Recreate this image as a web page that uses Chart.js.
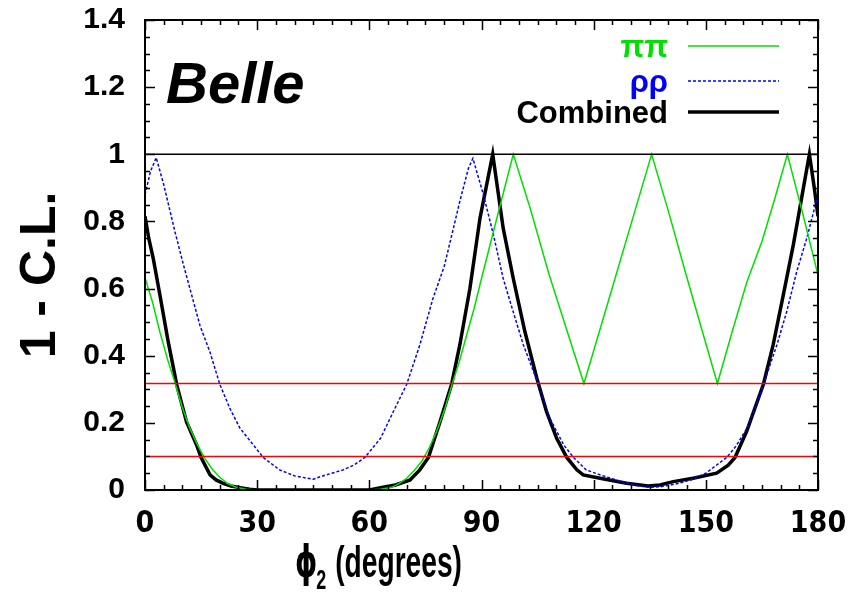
<!DOCTYPE html>
<html lang="en">
<head>
<meta charset="UTF-8">
<title>Belle phi2 scan</title>
<script src="https://cdn.jsdelivr.net/npm/chart.js"></script>
<style>
  html, body { margin: 0; padding: 0; background: #fff; }
  .chart-box { position: relative; width: 868px; height: 593px; }
</style>
</head>
<body>
<div class="chart-box"><canvas id="clChart" width="868" height="593"></canvas></div>
<script>
// 1 - C.L. versus phi2
const pipiPhi = [0, 2, 4, 6, 8, 10, 12, 14, 16, 18, 20, 22, 24.5, 27, 30, 60, 63, 66, 68, 70, 72, 74, 76, 78, 80, 82, 84, 86, 88, 90, 94, 98.5,
  103, 108, 113, 117.4, 122, 126.5, 131, 135.5, 140, 144.5, 149, 153.1, 157, 161, 165, 168.5, 171.8, 176, 180];
const pipiCL = [0.632, 0.56, 0.47, 0.39, 0.32, 0.245, 0.184, 0.135, 0.094, 0.062, 0.038, 0.02, 0.008, 0.002, 0, 0, 0.002, 0.008, 0.02, 0.035, 0.058, 0.085, 0.125, 0.175, 0.235, 0.31, 0.38, 0.46, 0.54, 0.63, 0.805, 1.0,
  0.84, 0.645, 0.47, 0.317, 0.49, 0.66, 0.83, 1.0, 0.83, 0.65, 0.475, 0.317, 0.47, 0.62, 0.74, 0.87, 1.0, 0.82, 0.64];

const rhorhoPhi = [0, 1.5, 3, 5, 8, 10.3, 12.5, 14.7, 17.4, 20, 22.7, 25.4, 29, 31.6, 36, 40, 45, 47, 50, 53, 56, 58.8, 63, 66.4, 70, 73.5, 77, 80, 82.5, 84.2, 86.5, 87.7,
  90.5, 93.2, 95.8, 98.5, 101.2, 105.2, 108.3, 112, 114.6, 118, 121.7, 126, 132, 135, 138, 142, 146, 150, 155.6, 158, 161, 163, 165.4, 169, 171.6, 174.3, 177, 180];
const rhorhoCL = [0.88, 0.95, 0.99, 0.91, 0.77, 0.67, 0.58, 0.49, 0.41, 0.315, 0.243, 0.184, 0.134, 0.097, 0.06, 0.042, 0.032, 0.04, 0.05, 0.06, 0.075, 0.097, 0.154, 0.233, 0.315, 0.432, 0.57, 0.665, 0.78, 0.86, 0.958, 0.988,
  0.88, 0.76, 0.63, 0.53, 0.432, 0.315, 0.213, 0.134, 0.097, 0.06, 0.045, 0.03, 0.012, 0.008, 0.01, 0.018, 0.03, 0.05, 0.097, 0.13, 0.184, 0.24, 0.315, 0.432, 0.53, 0.65, 0.75, 0.88];

const combPhi = [0, 1, 2.2, 4, 6.2, 8.5, 11.1, 13.8, 15, 17.4, 19, 20.9, 23, 25.4, 28, 30, 60, 63.7, 67, 70.9, 73.5, 75.8, 78.9, 82, 84.2, 86.9, 89.6, 93,
  95.8, 98.5, 101.6, 104.8, 107.4, 110.1, 112.8, 115.5, 117.2, 121.7, 128.8, 134.5, 137.7, 141.3, 146.6, 152.9, 156, 157.8, 160.9, 163.1, 165.4, 168, 170.7, 173.4, 176.1, 177.7, 179, 180];
const combCL = [0.815, 0.75, 0.69, 0.58, 0.442, 0.313, 0.203, 0.134, 0.097, 0.045, 0.03, 0.02, 0.012, 0.007, 0.002, 0, 0, 0.008, 0.015, 0.03, 0.06, 0.097, 0.203, 0.315, 0.432, 0.6, 0.81, 1.0,
  0.78, 0.63, 0.472, 0.333, 0.233, 0.154, 0.097, 0.06, 0.045, 0.035, 0.02, 0.012, 0.015, 0.025, 0.035, 0.05, 0.074, 0.097, 0.174, 0.243, 0.315, 0.432, 0.58, 0.73, 0.9, 1.0, 0.9, 0.815];

// horizontal reference levels: 1, 1 sigma, 90% C.L.
const refLevels = [1, 0.317, 0.1];

const xTickValues = [0, 30, 60, 90, 120, 150, 180];
const yTickValues = [0, 0.2, 0.4, 0.6, 0.8, 1, 1.2, 1.4];

const toPoints = (xs, ys) => xs.map((v, i) => ({ x: v, y: ys[i] }));

const refSets = refLevels.map(l => ({
  label: '',
  data: [{ x: xTickValues[0], y: l }, { x: xTickValues[xTickValues.length - 1], y: l }],
  borderColor: l === 1 ? '#000000' : '#ff0000',
  borderWidth: 1.5,
  pointRadius: 0,
  showLine: true
}));

// frame + inward ticks on all four sides
const frameTicks = {
  id: 'frameTicks',
  afterDatasetsDraw(chart) {
    const { ctx, chartArea: a, scales: { x, y } } = chart;
    ctx.save();
    ctx.strokeStyle = '#000';
    ctx.lineWidth = 1.5;
    ctx.beginPath();
    for (let i = 0; i <= 36; i++) {
      const px = Math.round(x.getPixelForValue(i * 5)) + 0.5;
      const len = i % 6 === 0 ? 10 : 5;
      ctx.moveTo(px, a.bottom); ctx.lineTo(px, a.bottom - len);
      ctx.moveTo(px, a.top); ctx.lineTo(px, a.top + len);
    }
    for (let i = 0; i <= 28; i++) {
      const py = Math.round(y.getPixelForValue(i * 0.05)) + 0.5;
      const len = i % 4 === 0 ? 10 : 5;
      ctx.moveTo(a.left, py); ctx.lineTo(a.left + len, py);
      ctx.moveTo(a.right, py); ctx.lineTo(a.right - len, py);
    }
    ctx.stroke();
    ctx.lineWidth = 2;
    ctx.strokeRect(a.left, a.top, a.right - a.left, a.bottom - a.top);
    ctx.restore();
  }
};

// Belle tag, legend and axis titles
const annotations = {
  id: 'annotations',
  afterDraw(chart) {
    const { ctx } = chart;
    ctx.save();
    ctx.fillStyle = '#000';
    ctx.textAlign = 'left';
    ctx.textBaseline = 'alphabetic';
    ctx.font = "italic bold 58px 'Liberation Sans', Arial, sans-serif";
    ctx.fillText('Belle', 166, 103);

    // legend, text right aligned, sample line to the right
    const rows = [46, 81, 112];
    const entries = chart.data.datasets.filter(d => d.label);
    entries.forEach((d, i) => {
      const ly = rows[i];
      ctx.font = "bold 31px 'Liberation Sans', Arial, sans-serif";
      ctx.textAlign = 'right';
      ctx.fillStyle = d.borderColor;
      ctx.fillText(d.label, 668, ly + 11);
      ctx.beginPath();
      ctx.strokeStyle = d.borderColor;
      ctx.lineWidth = d.borderWidth;
      ctx.setLineDash(d.borderDash || []);
      ctx.moveTo(688, ly);
      ctx.lineTo(779, ly);
      ctx.stroke();
      ctx.setLineDash([]);
    });

    // y title
    ctx.fillStyle = '#000';
    ctx.save();
    ctx.translate(41, 275);
    ctx.rotate(-Math.PI / 2);
    ctx.textAlign = 'center';
    ctx.textBaseline = 'middle';
    ctx.font = "bold 50px 'Liberation Sans', Arial, sans-serif";
    ctx.fillText('1 - C.L.', 0, 0);
    ctx.restore();

    // x title, squeezed like the original
    ctx.save();
    ctx.translate(295, 577);
    ctx.scale(0.64, 1);
    ctx.textAlign = 'left';
    ctx.font = "bold 44px 'DejaVu Sans', sans-serif";
    ctx.fillText('\u03d5', 0, 0);
    let w = ctx.measureText('\u03d5').width;
    ctx.font = "bold 28px 'Liberation Sans', Arial, sans-serif";
    ctx.fillText('2', w - 2, 12);
    w += ctx.measureText('2').width;
    ctx.font = "bold 44px 'Liberation Sans', Arial, sans-serif";
    ctx.fillText(' (degrees)', w, 0);
    ctx.restore();
    ctx.restore();
  }
};

const config = {
  type: 'scatter',
  data: {
    datasets: [
      ...refSets,
      {
        label: '\u03c0\u03c0',
        data: toPoints(pipiPhi, pipiCL),
        borderColor: '#00e000',
        borderWidth: 1.5,
        pointRadius: 0,
        showLine: true
      },
      {
        label: '\u03c1\u03c1',
        data: toPoints(rhorhoPhi, rhorhoCL),
        borderColor: '#0000ff',
        borderWidth: 1.5,
        borderDash: [3, 2],
        pointRadius: 0,
        showLine: true
      },
      {
        label: 'Combined',
        data: toPoints(combPhi, combCL),
        borderColor: '#000000',
        borderWidth: 3.5,
        pointRadius: 0,
        showLine: true
      }
    ]
  },
  options: {
    responsive: false,
    animation: false,
    devicePixelRatio: 1,
    layout: { padding: { top: 20, right: 50, left: 0, bottom: 0 } },
    plugins: {
      legend: { display: false },
      tooltip: { enabled: false }
    },
    scales: {
      x: {
        type: 'linear',
        min: 0,
        max: 180,
        afterBuildTicks: s => { s.ticks = xTickValues.map(v => ({ value: v })); },
        afterFit: s => { s.height = 103; s.paddingLeft = 0; s.paddingRight = 0; },
        grid: { display: false, drawTicks: false },
        border: { display: false },
        ticks: {
          color: '#000',
          padding: 16,
          maxRotation: 0,
          font: { family: "'Liberation Sans Narrow', 'DejaVu Sans Condensed', 'Liberation Sans', sans-serif", size: 30, weight: 'bold' }
        }
      },
      y: {
        type: 'linear',
        min: 0,
        max: 1.4,
        afterBuildTicks: s => { s.ticks = yTickValues.map(v => ({ value: v })); },
        afterFit: s => { s.width = 145; s.paddingTop = 0; s.paddingBottom = 0; },
        grid: { display: false, drawTicks: false },
        border: { display: false },
        ticks: {
          color: '#000',
          padding: 20,
          callback: v => String(Number(v.toFixed(1))),
          font: { family: "'Liberation Sans', Arial, sans-serif", size: 30, weight: 'bold' }
        }
      }
    }
  },
  plugins: [frameTicks, annotations]
};

const clChart = new Chart(document.getElementById('clChart'), config);
</script>
</body>
</html>
